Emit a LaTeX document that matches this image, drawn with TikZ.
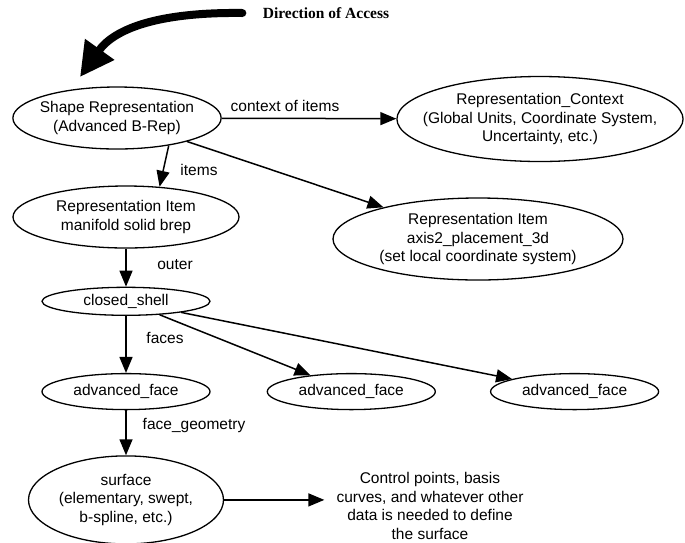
\documentclass[tikz,border=0pt]{standalone}
\usepackage{fontspec}
\setmainfont{Liberation Sans}
\newfontfamily\dirfont{Liberation Serif}
\usetikzlibrary{shapes.geometric, arrows.meta, positioning}

\begin{document}
\begin{tikzpicture}[
    x=1pt, y=-1pt,
    font=\fontsize{15.5}{18.5}\selectfont,
    ent/.style={ellipse, draw, line width=1.3pt, inner sep=0pt, align=center},
    lbl/.style={inner sep=0pt},
    arrow/.style={-{Triangle[length=16pt,width=13pt]}, line width=1.5pt},
    node distance=38pt and 56pt
  ]
    \useasboundingbox (0,0) rectangle (685,542);

    \node[font=\dirfont\bfseries\fontsize{15.5}{18.5}\selectfont] (dir) at (326,13) {Direction of Access};
    \coordinate (tip) at (80,77);

    \node[ent, minimum width=208pt, minimum height=62pt, inner xsep=-3.5pt] (shape) at (117,118)
        {Shape Representation\\(Advanced B-Rep)};
    \node[ent, minimum width=286pt, minimum height=85pt, inner xsep=-16pt] (ctx) at (540,119)
        {Representation\_Context\\(Global Units, Coordinate System,\\Uncertainty, etc.)};
    \node[ent, minimum width=226pt, minimum height=62pt] (solid) at (126,217)
        {Representation Item\\manifold solid brep};
    \node[ent, minimum width=290pt, minimum height=82pt] (axis) at (478,239)
        {Representation Item\\axis2\_placement\_3d\\(set local coordinate system)};
    \node[ent, minimum width=168pt, minimum height=28pt, below=of solid] (shell) {closed\_shell};
    \node[ent, minimum width=168pt, minimum height=36pt, below=57pt of shell] (face1) {advanced\_face};
    \node[ent, minimum width=168pt, minimum height=36pt, right=of face1] (face2) {advanced\_face};
    \node[ent, minimum width=168pt, minimum height=36pt, right=54pt of face2] (face3) {advanced\_face};
    \node[ent, minimum width=195pt, minimum height=88pt, below=45pt of face1] (surf)
        {surface\\(elementary, swept,\\b-spline, etc.)};
    \node[align=center, inner xsep=12pt] (ctrl) at (430,506)
        {Control points, basis\\curves, and whatever other\\data is needed to define\\the surface};

    % access direction
    \draw[line width=8pt, line cap=round, -{Triangle[length=34pt,width=34pt]}]
        ([xshift=-17pt]dir.west) .. controls (160,12) and (115,28) .. (tip);

    \draw[arrow] (shape) -- (ctx);
    \draw[arrow] (shape.-28) -- (solid.42);
    \draw[arrow] (shape) -- (axis);
    \draw[arrow] (solid) -- (shell);
    \draw[arrow] (shell) -- (face1);
    \draw[arrow] (shell) -- (face2);
    \draw[arrow] (shell) -- (face3);
    \draw[arrow] (face1) -- (surf);
    \draw[arrow] (surf) -- (surf -| ctrl.west);

    \node[lbl] (ctxlbl)   at (285,106) {context of items};
    \node[lbl] (itemslbl) at (199,170) {items};
    \node[lbl] (outerlbl) at (175,265) {outer};
    \node[lbl] (faceslbl) at (165,338) {faces};
    \node[lbl] (geomlbl)  at (194,425) {face\_geometry};
\end{tikzpicture}
\end{document}
